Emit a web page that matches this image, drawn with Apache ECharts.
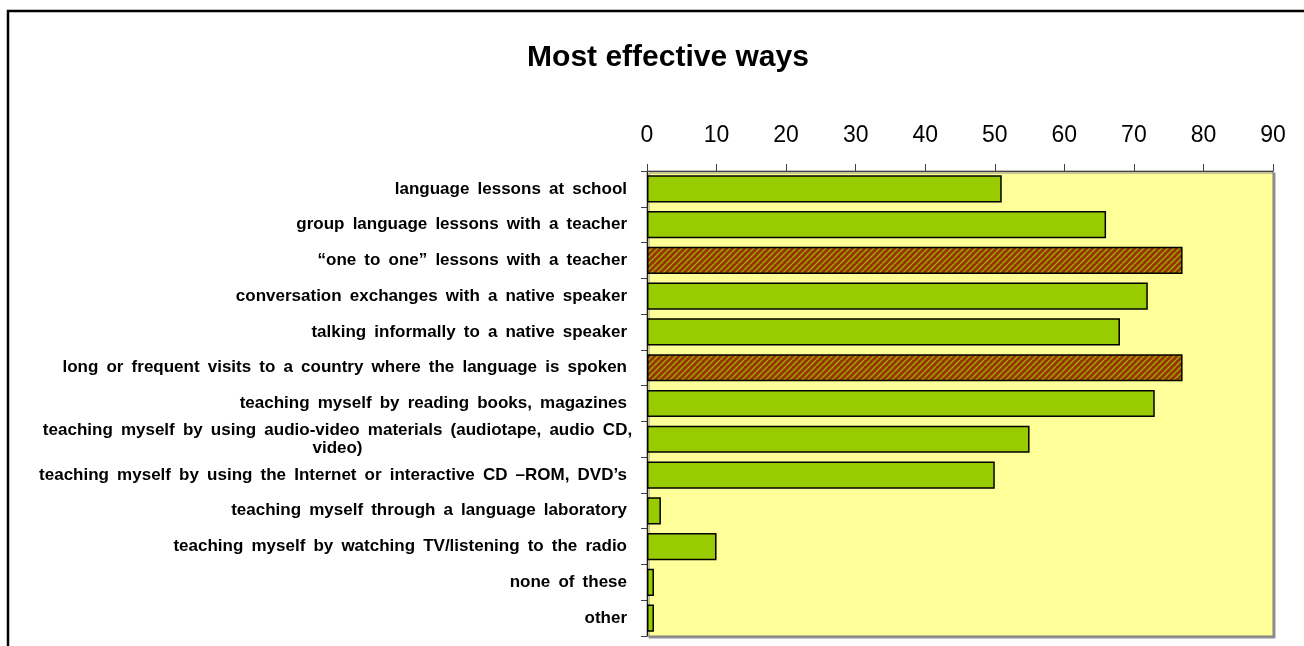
<!DOCTYPE html>
<html>
<head>
<meta charset="utf-8">
<script src="https://cdn.jsdelivr.net/npm/echarts@6/dist/echarts.min.js"></script>
<style>html,body{margin:0;padding:0;background:#fff}#c{width:1304px;height:646px}</style>
</head>
<body>
<div id="c"></div>
<script>
const categories = [
  "language lessons at school",
  "group language lessons with a teacher",
  "\u201cone to one\u201d lessons with a teacher",
  "conversation exchanges with a native speaker",
  "talking informally to a native speaker",
  "long or frequent visits to a country where the language is spoken",
  "teaching myself by reading books, magazines",
  "teaching myself by using audio-video materials (audiotape, audio CD,\nvideo)",
  "teaching myself by using the Internet or interactive CD \u2013ROM, DVD\u2019s",
  "teaching myself through a language laboratory",
  "teaching myself by watching TV/listening to the radio",
  "none of these",
  "other"
];
const values = [51, 66, 77, 72, 68, 77, 73, 55, 50, 2, 10, 1, 1];
const highlighted = [false, false, true, false, false, true, false, false, false, false, false, false, false];
const xTicks = [0, 10, 20, 30, 40, 50, 60, 70, 80, 90];

function hatch() {
  const c = document.createElement('canvas');
  c.width = 6; c.height = 6;
  const g = c.getContext('2d');
  g.fillStyle = '#993300';
  g.fillRect(0, 0, 6, 6);
  g.strokeStyle = '#99aa00';
  g.lineWidth = 1.5;
  for (let k = -6; k <= 12; k += 6) {
    g.beginPath();
    g.moveTo(k, 6);
    g.lineTo(k + 6, 0);
    g.stroke();
  }
  return c;
}
const pattern = { image: hatch(), repeat: 'repeat' };

const labelFont = { fontFamily: 'Liberation Sans', fontWeight: 'bold', fontSize: 17, color: '#000' };
// wider word spacing as in the original
const spaced = s => s.replace(/ /g, ' \u2009');

const chart = echarts.init(document.getElementById('c'));
chart.setOption({
  animation: false,
  backgroundColor: '#fff',
  title: {
    text: 'Most effective ways',
    left: 663, top: 38, textAlign: 'center',
    textStyle: { fontFamily: 'Liberation Sans', fontWeight: 'bold', fontSize: 30, color: '#000' }
  },
  graphic: [{
    type: 'rect', shape: { x: 8, y: 11, width: 1400, height: 700 },
    style: { fill: 'none', stroke: '#000', lineWidth: 2.5 }, z: 100
  }],
  grid: {
    left: 647, right: 31, top: 171, bottom: 10,
    show: true, backgroundColor: '#ffff99', borderColor: '#808080', borderWidth: 1,
    shadowColor: '#909090', shadowOffsetX: 2, shadowOffsetY: 2, shadowBlur: 0
  },
  xAxis: {
    type: 'value', position: 'top', min: 0, max: 90, interval: 10,
    axisLine: { show: true, lineStyle: { color: '#404040', width: 1 } },
    axisTick: { show: true, length: 7, inside: false, lineStyle: { color: '#404040' } },
    splitLine: { show: false },
    axisLabel: {
      margin: 24, color: '#000', fontFamily: 'Liberation Sans', fontSize: 23,
      formatter: v => xTicks.includes(v) ? String(v) : ''
    }
  },
  yAxis: {
    type: 'category', inverse: true, data: categories,
    axisLine: { show: true, lineStyle: { color: '#202020', width: 1 } },
    axisTick: { show: true, length: 6, alignWithLabel: false, lineStyle: { color: '#404040' } },
    axisLabel: Object.assign({
      margin: 4, align: 'right',
      formatter: function (v) {
        return v.indexOf('\n') >= 0 ? '{w|' + spaced(v) + '}' : '{n|' + spaced(v) + '}';
      },
      rich: {
        n: Object.assign({ padding: [0, 16, 0, 0] }, labelFont),
        w: Object.assign({ width: 611, align: 'center', lineHeight: 18 }, labelFont)
      }
    }, labelFont)
  },
  series: [{
    type: 'bar',
    barCategoryGap: '24%',
    data: values.map((v, i) => ({
      value: v,
      itemStyle: highlighted[i] ? { color: pattern } : {}
    })),
    itemStyle: { color: '#99cc00', borderColor: '#000', borderWidth: 1.5 }
  }]
});
</script>
</body>
</html>
